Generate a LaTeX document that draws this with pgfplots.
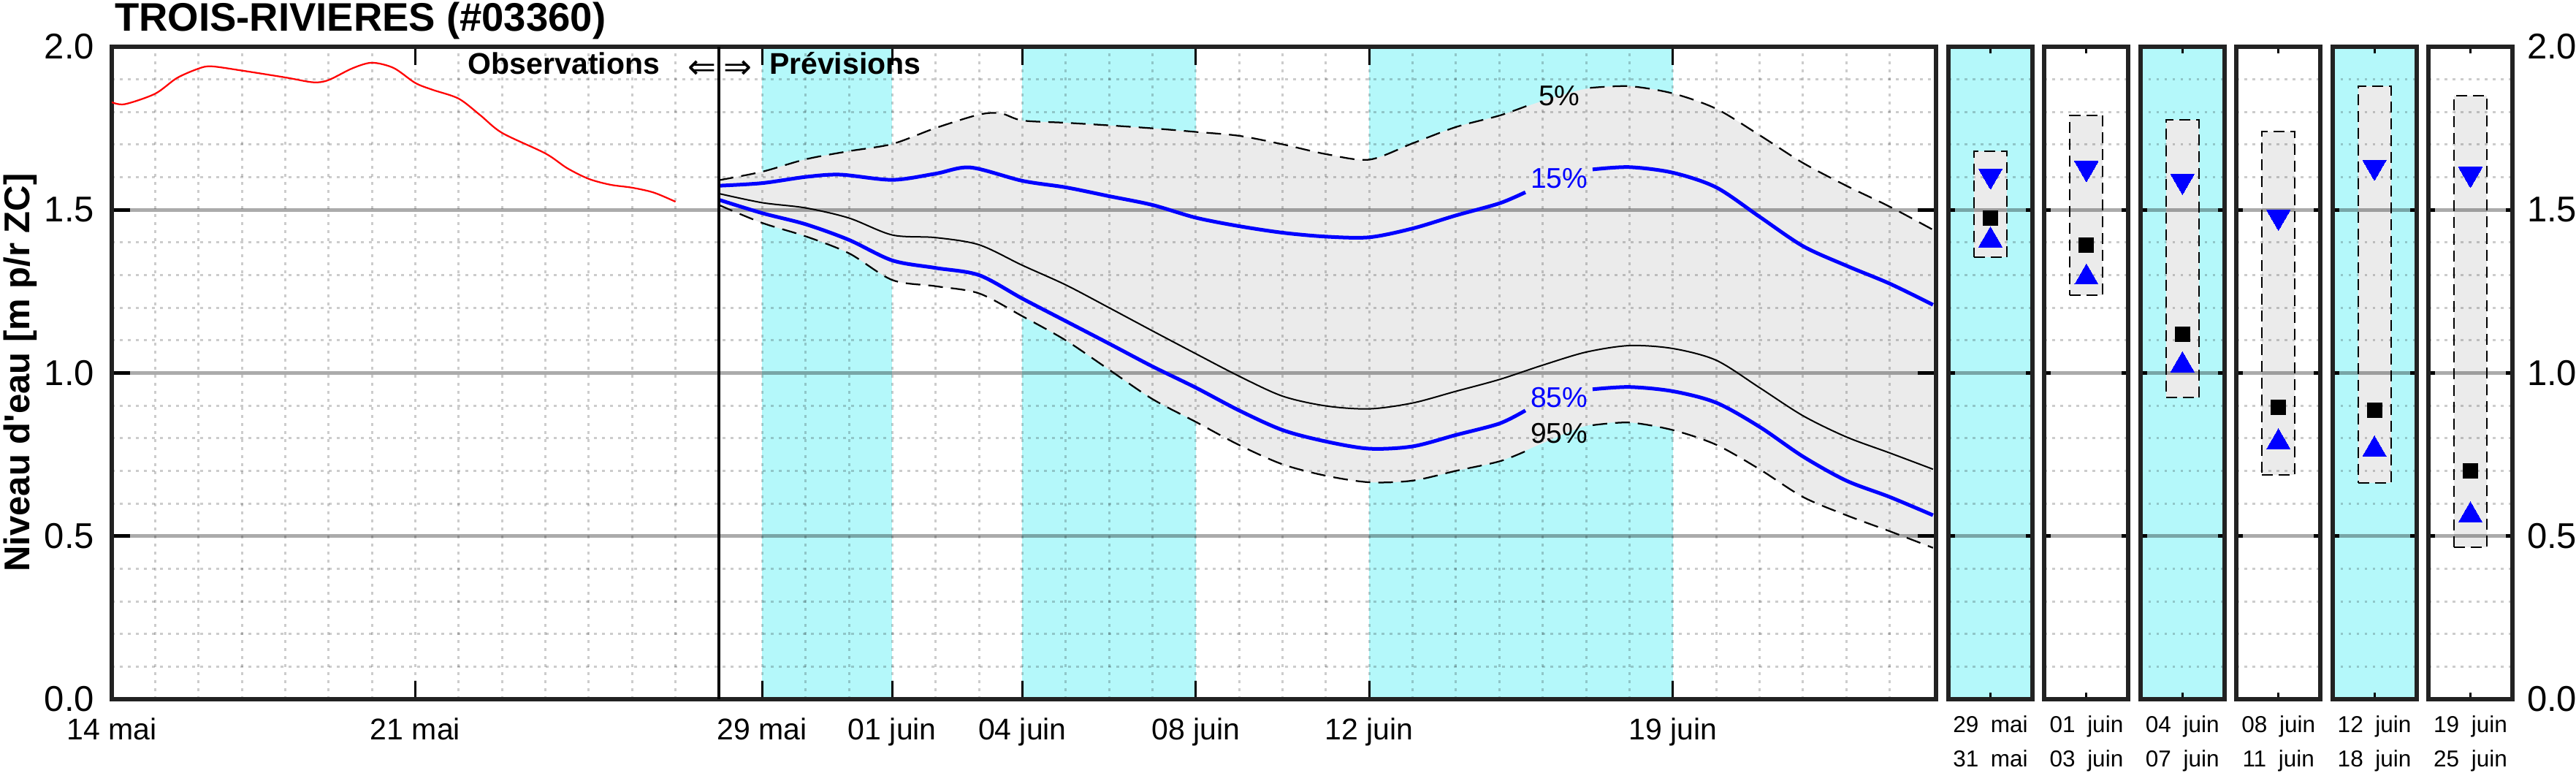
\documentclass[border=0pt]{standalone}
\usepackage{fontspec}
\setmainfont{Liberation Sans}
\newfontfamily\dejavu{DejaVu Sans}
\usepackage{pgfplots}
\pgfplotsset{compat=1.18}
\usepgfplotslibrary{fillbetween}
\definecolor{cyanb}{RGB}{180,248,250}
\definecolor{grayf}{RGB}{235,235,235}
\definecolor{framec}{RGB}{34,34,34}
\newcommand{\fs}[1]{\fontsize{#1}{#1}\selectfont}
\pgfplotsset{
  layers/mylayers/.define layer set={axis background,pre main,axis grid,axis ticks,axis lines,axis tick labels,main,axis descriptions,axis foreground}{},
  common/.style={
    set layers=mylayers,
    scale only axis,
    anchor=south west,
    height=178.6pt,
    ymin=0, ymax=2,
    ytick={0,0.5,1,1.5,2},
    minor ytick={0.1,0.2,0.3,0.4,0.6,0.7,0.8,0.9,1.1,1.2,1.3,1.4,1.6,1.7,1.8,1.9},
    ymajorgrids, yminorgrids,
    major grid style={line width=1pt, black, opacity=0.33},
    minor grid style={line width=0.6pt, black, opacity=0.2, dash pattern=on 0.7pt off 1.5pt},
    axis line style={line width=1.2pt, framec},
    tick style={black, line width=0.6pt},
    ytick style={line width=1pt},
    minor tick length=0pt,
    tick align=inside,
  },
  small/.style={
    width=23pt,
    xmin=0, xmax=1,
    xtick={0.5},
    major tick length=1.8pt,
    yticklabels={},
    xticklabel style={font=\fontsize{6.3}{9.3}\selectfont, align=center, inner sep=0pt, anchor=north, yshift=-4.4pt},
  },
  dn/.style={only marks, blue, mark=triangle*, mark size=3.7pt, mark options={rotate=180, fill=blue, draw=blue, line width=0pt}},
  upm/.style={only marks, blue, mark=triangle*, mark size=3.7pt, mark options={fill=blue, draw=blue, line width=0pt}},
  sq/.style={only marks, black, mark=square*, mark size=2pt, mark options={fill=black, draw=black, line width=0pt}},
  bx/.style={black, line width=0.4pt, dash pattern=on 3pt off 1.6pt},
}
\begin{document}
\begin{tikzpicture}

% ---------------- main axis ----------------
\begin{axis}[common, at={(30.6pt,20.2pt)}, width=499.4pt,
  xmin=0, xmax=42.07,
  xtick={0,7,15,18,21,25,29,36},
  xticklabels={14 mai,21 mai,29 mai,01 juin,04 juin,08 juin,12 juin,19 juin},
  minor xtick={1,2,3,4,5,6,7,8,9,10,11,12,13,15,16,17,18,19,20,21,22,23,24,25,26,27,28,29,30,31,32,33,34,35,36,37,38,39,40,41},
  xminorgrids,
  major tick length=5pt,
  yticklabels={0.0,0.5,1.0,1.5,2.0},
  xticklabel style={font=\fs{8.2}, inner sep=0pt, anchor=north, yshift=-5pt},
  yticklabel style={font=\fs{9.8}, inner sep=0pt, anchor=east, xshift=-4.6pt},
]
% cyan bands
\addplot[draw=none, name path=mtop] coordinates {(0,2) (42.07,2)};
\addplot[draw=none, name path=mbot] coordinates {(0,0) (42.07,0)};
\addplot[fill=cyanb, draw=none] fill between[of=mtop and mbot, soft clip={domain=15:18}];
\addplot[fill=cyanb, draw=none] fill between[of=mtop and mbot, soft clip={domain=21:25}];
\addplot[fill=cyanb, draw=none] fill between[of=mtop and mbot, soft clip={domain=29:36}];

% envelope 5% / 95% (full, for the fill)
\addplot[draw=none, smooth, name path=up] coordinates {
(14,1.591) (15,1.617) (16,1.655) (17,1.680) (18,1.702) (19,1.751) (20,1.792) (20.5,1.796) (21,1.774) (22,1.767) (23,1.759) (24,1.750) (25,1.739) (26,1.727) (27,1.701) (28,1.671) (29,1.654) (30,1.704) (31,1.754) (32,1.789) (33,1.834) (34,1.871) (35,1.879) (36,1.857) (37,1.810) (38,1.729) (39,1.644) (40,1.574) (41,1.510) (42,1.439)};
\addplot[draw=none, smooth, name path=lo] coordinates {
(14,1.515) (15,1.460) (16,1.419) (17,1.367) (18,1.285) (19,1.266) (20,1.244) (21,1.174) (22,1.100) (23,1.010) (24,0.920) (25,0.850) (26,0.779) (27,0.720) (28,0.685) (29,0.665) (30,0.670) (31,0.700) (32,0.729) (33,0.785) (34,0.838) (35,0.848) (36,0.825) (37,0.780) (38,0.705) (39,0.620) (40,0.564) (41,0.515) (42,0.464)};
\addplot[fill=grayf, draw=none] fill between[of=up and lo];

% observations
\addplot[red, line width=0.45pt, smooth] coordinates {
(0,1.830) (0.3,1.824) (1,1.856) (1.5,1.904) (2,1.933) (2.3,1.940) (3,1.927) (4,1.906) (4.65,1.891) (5,1.898) (5.55,1.934) (6,1.951) (6.5,1.935) (7,1.889) (7.4,1.868) (8,1.841) (8.5,1.790) (9,1.736) (10,1.673) (10.5,1.628) (11,1.595) (11.5,1.577) (12,1.568) (12.5,1.553) (13,1.525)};

% 5% dashed
\addplot[black, line width=0.45pt, smooth, dash pattern=on 4pt off 2.2pt] coordinates {
(14,1.591) (15,1.617) (16,1.655) (17,1.680) (18,1.702) (19,1.751) (20,1.792) (20.5,1.796) (21,1.774) (22,1.767) (23,1.759) (24,1.750) (25,1.739) (26,1.727) (27,1.701) (28,1.671) (29,1.654) (30,1.704) (31,1.754) (32,1.789) (32.64,1.819)};
\addplot[black, line width=0.45pt, smooth, dash pattern=on 4pt off 2.2pt] coordinates {
(34.09,1.874) (35,1.879) (36,1.857) (37,1.810) (38,1.729) (39,1.644) (40,1.574) (41,1.510) (42,1.439)};
% 95% dashed
\addplot[black, line width=0.45pt, smooth, dash pattern=on 4pt off 2.2pt] coordinates {
(14,1.515) (15,1.460) (16,1.419) (17,1.367) (18,1.285) (19,1.266) (20,1.244) (21,1.174) (22,1.100) (23,1.010) (24,0.920) (25,0.850) (26,0.779) (27,0.720) (28,0.685) (29,0.665) (30,0.670) (31,0.700) (32,0.729) (32.6,0.760)};
\addplot[black, line width=0.45pt, smooth, dash pattern=on 4pt off 2.2pt] coordinates {
(34.15,0.840) (35,0.848) (36,0.825) (37,0.780) (38,0.705) (39,0.620) (40,0.564) (41,0.515) (42,0.464)};
% median
\addplot[black, line width=0.4pt, smooth] coordinates {
(14,1.550) (15,1.522) (16,1.506) (17,1.475) (18,1.423) (19,1.415) (20,1.393) (21,1.330) (22,1.270) (23,1.200) (24,1.129) (25,1.059) (26,0.990) (27,0.929) (28,0.899) (29,0.890) (30,0.908) (31,0.944) (32,0.980) (33,1.024) (34,1.064) (35,1.084) (36,1.075) (37,1.039) (38,0.955) (39,0.869) (40,0.804) (41,0.755) (42,0.705)};
% 15%
\addplot[blue, line width=1pt, smooth] coordinates {
(14,1.574) (15,1.582) (16,1.601) (16.8,1.608) (18,1.592) (19,1.611) (19.8,1.630) (21,1.589) (22,1.569) (23,1.542) (24,1.515) (25,1.476) (26,1.450) (27,1.430) (28,1.418) (29,1.416) (30,1.443) (31,1.483) (32,1.520) (32.6,1.554)};
\addplot[blue, line width=1pt, smooth] coordinates {
(34.15,1.624) (35,1.631) (36,1.614) (37,1.569) (38,1.479) (39,1.389) (40,1.329) (41,1.274) (42,1.209)};
% 85%
\addplot[blue, line width=1pt, smooth] coordinates {
(14,1.531) (15,1.490) (16,1.456) (17,1.408) (18,1.345) (19,1.322) (20,1.300) (21,1.228) (22,1.159) (23,1.090) (24,1.020) (25,0.955) (26,0.885) (27,0.825) (28,0.790) (29,0.768) (30,0.775) (31,0.810) (32,0.845) (32.6,0.885)};
\addplot[blue, line width=1pt, smooth] coordinates {
(34.15,0.950) (35,0.957) (36,0.944) (37,0.909) (38,0.835) (39,0.744) (40,0.670) (41,0.620) (42,0.564)};
% divider
\addplot[black, line width=0.75pt] coordinates {(14,0) (14,2)};
% labels
\node[font=\fs{7.8}, inner sep=0pt] at (axis cs:33.38,1.850) {5\%};
\node[font=\fs{7.8}, inner sep=0pt, text=blue] at (axis cs:33.38,1.597) {15\%};
\node[font=\fs{7.8}, inner sep=0pt, text=blue] at (axis cs:33.38,0.925) {85\%};
\node[font=\fs{7.8}, inner sep=0pt] at (axis cs:33.38,0.815) {95\%};
\end{axis}

% ---------------- small panels ----------------
\begin{axis}[common, small, at={(533.4pt,20.2pt)}, xticklabels={{29\hspace{0.53em}mai\\31\hspace{0.53em}mai}}]
\addplot[draw=none, name path=atop] coordinates {(0,2) (1,2)};
\addplot[draw=none, name path=abot] coordinates {(0,0) (1,0)};
\addplot[fill=cyanb, draw=none] fill between[of=atop and abot];
\addplot[draw=none, name path=ahi] coordinates {(0,1.680) (1,1.680)};
\addplot[draw=none, name path=alo] coordinates {(0,1.354) (1,1.354)};
\addplot[fill=grayf, draw=none] fill between[of=ahi and alo, soft clip={domain=0.304:0.696}];
\addplot[bx] coordinates {(0.304,1.354) (0.696,1.354) (0.696,1.680) (0.304,1.680) (0.304,1.354)};
\addplot[dn] coordinates {(0.5,1.605)};
\addplot[sq] coordinates {(0.5,1.474)};
\addplot[upm] coordinates {(0.5,1.407)};
\end{axis}

\begin{axis}[common, small, at={(559.68pt,20.2pt)}, xticklabels={{01\hspace{0.53em}juin\\03\hspace{0.53em}juin}}]
\addplot[draw=none, name path=bhi] coordinates {(0,1.790) (1,1.790)};
\addplot[draw=none, name path=blo] coordinates {(0,1.239) (1,1.239)};
\addplot[fill=grayf, draw=none] fill between[of=bhi and blo, soft clip={domain=0.304:0.696}];
\addplot[bx] coordinates {(0.304,1.239) (0.696,1.239) (0.696,1.790) (0.304,1.790) (0.304,1.239)};
\addplot[dn] coordinates {(0.5,1.628)};
\addplot[sq] coordinates {(0.5,1.391)};
\addplot[upm] coordinates {(0.5,1.293)};
\end{axis}

\begin{axis}[common, small, at={(585.96pt,20.2pt)}, xticklabels={{04\hspace{0.53em}juin\\07\hspace{0.53em}juin}}]
\addplot[draw=none, name path=ctop] coordinates {(0,2) (1,2)};
\addplot[draw=none, name path=cbot] coordinates {(0,0) (1,0)};
\addplot[fill=cyanb, draw=none] fill between[of=ctop and cbot];
\addplot[draw=none, name path=chi] coordinates {(0,1.776) (1,1.776)};
\addplot[draw=none, name path=clo] coordinates {(0,0.924) (1,0.924)};
\addplot[fill=grayf, draw=none] fill between[of=chi and clo, soft clip={domain=0.304:0.696}];
\addplot[bx] coordinates {(0.304,0.924) (0.696,0.924) (0.696,1.776) (0.304,1.776) (0.304,0.924)};
\addplot[dn] coordinates {(0.5,1.589)};
\addplot[sq] coordinates {(0.5,1.118)};
\addplot[upm] coordinates {(0.5,1.024)};
\end{axis}

\begin{axis}[common, small, at={(612.24pt,20.2pt)}, xticklabels={{08\hspace{0.53em}juin\\11\hspace{0.53em}juin}}]
\addplot[draw=none, name path=dhi] coordinates {(0,1.740) (1,1.740)};
\addplot[draw=none, name path=dlo] coordinates {(0,0.688) (1,0.688)};
\addplot[fill=grayf, draw=none] fill between[of=dhi and dlo, soft clip={domain=0.304:0.696}];
\addplot[bx] coordinates {(0.304,0.688) (0.696,0.688) (0.696,1.740) (0.304,1.740) (0.304,0.688)};
\addplot[dn] coordinates {(0.5,1.479)};
\addplot[sq] coordinates {(0.5,0.895)};
\addplot[upm] coordinates {(0.5,0.788)};
\end{axis}

\begin{axis}[common, small, at={(638.52pt,20.2pt)}, xticklabels={{12\hspace{0.53em}juin\\18\hspace{0.53em}juin}}]
\addplot[draw=none, name path=etop] coordinates {(0,2) (1,2)};
\addplot[draw=none, name path=ebot] coordinates {(0,0) (1,0)};
\addplot[fill=cyanb, draw=none] fill between[of=etop and ebot];
\addplot[draw=none, name path=ehi] coordinates {(0,1.879) (1,1.879)};
\addplot[draw=none, name path=elo] coordinates {(0,0.664) (1,0.664)};
\addplot[fill=grayf, draw=none] fill between[of=ehi and elo, soft clip={domain=0.304:0.696}];
\addplot[bx] coordinates {(0.304,0.664) (0.696,0.664) (0.696,1.879) (0.304,1.879) (0.304,0.664)};
\addplot[dn] coordinates {(0.5,1.632)};
\addplot[sq] coordinates {(0.5,0.885)};
\addplot[upm] coordinates {(0.5,0.766)};
\end{axis}

\begin{axis}[common, small, at={(664.8pt,20.2pt)}, xticklabels={{19\hspace{0.53em}juin\\25\hspace{0.53em}juin}},
  yticklabel pos=right, yticklabels={0.0,0.5,1.0,1.5,2.0},
  yticklabel style={font=\fs{9.8}, inner sep=0pt, anchor=west, xshift=3.8pt}]
\addplot[draw=none, name path=fhi] coordinates {(0,1.850) (1,1.850)};
\addplot[draw=none, name path=flo] coordinates {(0,0.466) (1,0.466)};
\addplot[fill=grayf, draw=none] fill between[of=fhi and flo, soft clip={domain=0.304:0.696}];
\addplot[bx] coordinates {(0.304,0.466) (0.696,0.466) (0.696,1.850) (0.304,1.850) (0.304,0.466)};
\addplot[dn] coordinates {(0.5,1.610)};
\addplot[sq] coordinates {(0.5,0.701)};
\addplot[upm] coordinates {(0.5,0.564)};
\end{axis}

% ---------------- texts ----------------
\node[anchor=base west, inner sep=0pt, font=\bfseries\fs{10.9}] at (31.2pt,203pt) {TROIS-RIVIERES (\#03360)};
\node[rotate=90, inner sep=0pt, font=\bfseries\fs{9.8}] at (5.6pt,109.6pt) {Niveau d\textquotesingle eau [m p/r ZC]};
\node[anchor=base east, inner sep=0pt, font=\bfseries\fs{8.2}] at (180.8pt,191.2pt) {Observations};
\node[inner sep=0pt, font=\dejavu\fs{9.3}] at (192.1pt,192.6pt) {⇐};
\node[inner sep=0pt, font=\dejavu\fs{9.3}] at (201.9pt,192.6pt) {⇒};
\node[anchor=base west, inner sep=0pt, font=\bfseries\fs{8.2}] at (210.4pt,191.2pt) {Prévisions};
\pgfresetboundingbox
\path[use as bounding box] (0,0) rectangle (705.2pt,211.6pt);
\end{tikzpicture}
\end{document}
